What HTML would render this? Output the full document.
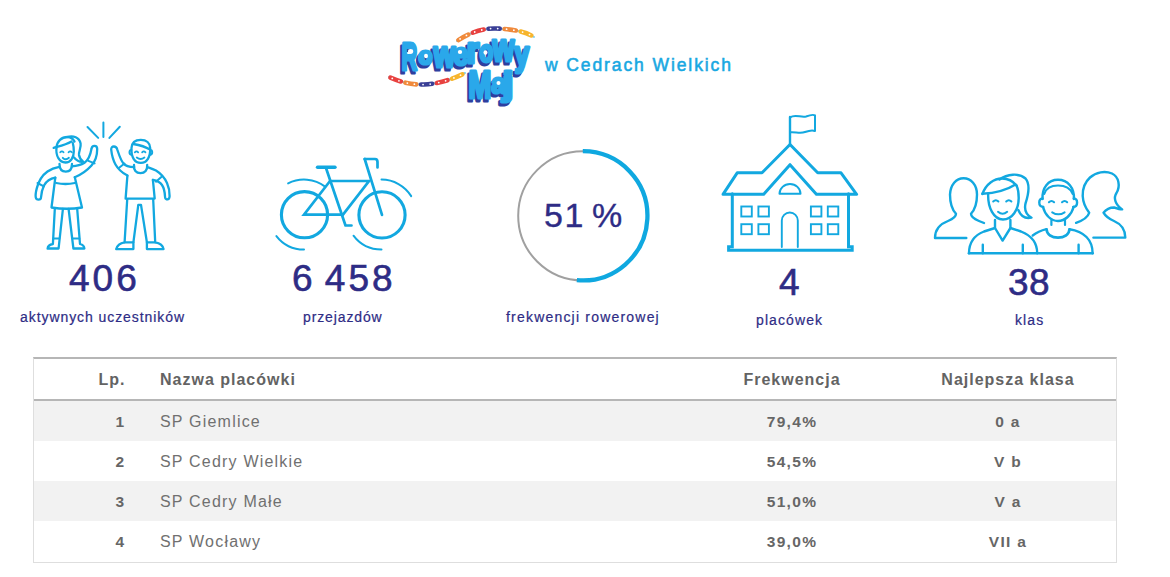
<!DOCTYPE html>
<html><head><meta charset="utf-8">
<style>
html,body{margin:0;padding:0;background:#fff;}
body{width:1170px;height:577px;position:relative;overflow:hidden;font-family:"Liberation Sans",sans-serif;}
.abs{position:absolute;}
.num{position:absolute;color:#2e2c85;font-size:37px;line-height:1;white-space:nowrap;letter-spacing:3px;-webkit-text-stroke:0.6px #2e2c85;}
.lbl{position:absolute;color:#2e2c85;font-size:14px;line-height:1;white-space:nowrap;letter-spacing:1.1px;-webkit-text-stroke:0.2px #2e2c85;}
.hdr{position:absolute;color:#19a8e2;font-size:17.5px;font-weight:normal;line-height:1;white-space:nowrap;letter-spacing:1.9px;-webkit-text-stroke:0.55px #19a8e2;}
table{position:absolute;left:33px;top:357px;width:1084px;border-collapse:collapse;}
.tbl{position:absolute;left:33px;top:357px;width:1082px;height:203px;border-top:2px solid #b6b6b6;border-left:1px solid #dedede;border-right:1px solid #dedede;border-bottom:1px solid #dedede;}
.row{position:absolute;left:0;width:1082px;height:40px;}
.cell{position:absolute;font-size:15px;line-height:1;white-space:nowrap;color:#666;letter-spacing:1.6px;}
.b{font-weight:bold;font-size:15.5px;letter-spacing:1.3px;}
.th{color:#636363;font-size:16px;letter-spacing:1px;}
.nm{color:#707070;font-size:16px;letter-spacing:1.2px;}
.c1{left:692px;width:200px;text-align:center;}
.c2{left:908px;width:200px;text-align:center;}
</style></head>
<body>

<!-- Logo -->
<svg class="abs" style="left:380px;top:20px" width="160" height="90" viewBox="380 20 160 90" font-family="Liberation Sans" font-weight="bold">
<defs>
<g id="lt">
<text x="401.6" y="70.4" font-size="39.5" textLength="15.8" lengthAdjust="spacingAndGlyphs">R</text>
<text x="418.6" y="64.4" font-size="23.7" textLength="13.8" lengthAdjust="spacingAndGlyphs">o</text>
<text x="433.6" y="67.4" font-size="36.7" textLength="21.8" lengthAdjust="spacingAndGlyphs">w</text>
<text x="453.6" y="65.4" font-size="31.1" textLength="14.8" lengthAdjust="spacingAndGlyphs">e</text>
<text x="466.6" y="63.4" font-size="36.7" textLength="12.8" lengthAdjust="spacingAndGlyphs">r</text>
<text x="479.6" y="62.4" font-size="31.1" textLength="13.8" lengthAdjust="spacingAndGlyphs">o</text>
<text x="492.6" y="61.4" font-size="38.5" textLength="21.8" lengthAdjust="spacingAndGlyphs">w</text>
<text x="514.6" y="66.2" font-size="34.4" textLength="14.8" lengthAdjust="spacingAndGlyphs">y</text>
<text x="468.6" y="98.4" font-size="38.1" textLength="22.8" lengthAdjust="spacingAndGlyphs">M</text>
<text x="491.6" y="93.4" font-size="27.4" textLength="13.8" lengthAdjust="spacingAndGlyphs">a</text>
<text x="502.6" y="95.3" font-size="33.8" textLength="10.8" lengthAdjust="spacingAndGlyphs">j</text>
</g>
</defs>
<g stroke-linejoin="round">
<use href="#lt" x="-2" y="3" fill="#2d3f9f" stroke="#2d3f9f" stroke-width="3.2"/>
<use href="#lt" fill="#2aa8ea" stroke="#2aa8ea" stroke-width="3.2"/>
</g>
<g fill="#fff"><ellipse cx="410.6" cy="51.5" rx="2.6" ry="2.4"/><ellipse cx="426" cy="56" rx="2" ry="2.2"/><ellipse cx="460" cy="52" rx="2.2" ry="2"/><ellipse cx="485.5" cy="52.5" rx="2" ry="2.2"/><ellipse cx="498.5" cy="83" rx="2" ry="2"/></g>
<g fill="none" stroke-width="4.6" stroke-linecap="round">
<path d="M457 41 C470 32 485 28 496 28.5 C510 29 525 31 534 37" stroke="#7fd0f0" stroke-width="2"/>
<path d="M389 77 C400 82 412 85 424 84.5 C440 84 455 78 465 73" stroke="#7fd0f0" stroke-width="2"/>
<path pathLength="100" d="M457 41 C470 32 485 28 496 28.5 C510 29 525 31 534 37" stroke="#f08a3c" stroke-dasharray="14 86" stroke-dashoffset="-2"/>
<path pathLength="100" d="M457 41 C470 32 485 28 496 28.5 C510 29 525 31 534 37" stroke="#e8413f" stroke-dasharray="14 86" stroke-dashoffset="-22"/>
<path pathLength="100" d="M457 41 C470 32 485 28 496 28.5 C510 29 525 31 534 37" stroke="#3a3f96" stroke-dasharray="14 86" stroke-dashoffset="-42"/>
<path pathLength="100" d="M457 41 C470 32 485 28 496 28.5 C510 29 525 31 534 37" stroke="#f08a3c" stroke-dasharray="14 86" stroke-dashoffset="-62"/>
<path pathLength="100" d="M457 41 C470 32 485 28 496 28.5 C510 29 525 31 534 37" stroke="#f7b52d" stroke-dasharray="14 86" stroke-dashoffset="-82"/>
<path pathLength="100" d="M389 77 C400 82 412 85 424 84.5 C440 84 455 78 465 73" stroke="#e8413f" stroke-dasharray="14 86" stroke-dashoffset="-2"/>
<path pathLength="100" d="M389 77 C400 82 412 85 424 84.5 C440 84 455 78 465 73" stroke="#f08a3c" stroke-dasharray="14 86" stroke-dashoffset="-22"/>
<path pathLength="100" d="M389 77 C400 82 412 85 424 84.5 C440 84 455 78 465 73" stroke="#3a3f96" stroke-dasharray="14 86" stroke-dashoffset="-42"/>
<path pathLength="100" d="M389 77 C400 82 412 85 424 84.5 C440 84 455 78 465 73" stroke="#e8413f" stroke-dasharray="14 86" stroke-dashoffset="-62"/>
<path pathLength="100" d="M389 77 C400 82 412 85 424 84.5 C440 84 455 78 465 73" stroke="#f7b52d" stroke-dasharray="14 86" stroke-dashoffset="-82"/>
<path pathLength="100" d="M457 41 C470 32 485 28 496 28.5 C510 29 525 31 534 37" stroke="#fff" stroke-width="1.8" stroke-dasharray="0 9 0 11" stroke-dashoffset="-4.5"/>
<path pathLength="100" d="M389 77 C400 82 412 85 424 84.5 C440 84 455 78 465 73" stroke="#fff" stroke-width="1.8" stroke-dasharray="0 9 0 11" stroke-dashoffset="-4.5"/>
</g>
</svg>
<div class="hdr" style="left:545px;top:57px">w Cedrach Wielkich</div>

<!-- Icons -->
<svg class="abs" style="left:0;top:100px" width="1170" height="200" viewBox="0 100 1170 200" fill="none" stroke="#12a8e0" stroke-width="2.4" stroke-linecap="round" stroke-linejoin="round">
<!-- kids -->
<g stroke-width="2.3">
<path d="M87.5 127 L98.2 137.9 M103.4 122.5 L103.4 137.1 M119.8 126.7 L109.4 137.9" stroke-width="2"/>
<path d="M56.5 147.5 C55.5 156 59.5 162.5 65.4 162.5 C71 162.5 73.8 157 73.8 151.5 C73.8 148 73.5 145.5 72.8 143"/>
<path d="M56.5 147.5 C57 141 61.5 137 67.5 137 C71 137 73.5 139.5 74.5 141.5"/>
<path d="M67.5 137 C73 135 79.5 137.5 80.6 143.5 C81.3 148 78.5 151.5 79 155 C79.5 158 81.5 160.5 83.2 161.7 C80 162.2 77 161 74 157.5"/>
<path d="M53.7 147.8 C58 146.5 65.5 145 71.5 141.5"/>
<path d="M60.2 152.3 Q61.9 150.3 63.6 152.3 M68.5 152.3 Q70.2 150.3 71.9 152.3" stroke-width="1.7"/>
<path d="M62.8 157.8 Q65.8 160.8 68.9 157.8" stroke-width="1.9"/>
<path d="M59.5 164 C59.5 169 62 171.6 65.8 171.6 C69.5 171.6 72 169 72 164"/>
<path d="M59.3 166.8 C55 167.5 51 169 47.5 171.5 C42.5 175 38.5 181.5 36.7 188.6 C35.7 192.5 35.4 195.5 35.8 197.5 C36.3 200.3 40.8 200.3 41 197.5 C41.3 193.5 42 189.5 44 185.5 C46.5 181 50.5 178.5 55.3 177.7"/>
<path d="M37.5 183 L43.8 186.3" stroke-width="2"/>
<path d="M55.3 177.7 L51.5 207.5 Q66.8 210 82 207.5 L74.8 177.2"/>
<path d="M56.2 183 Q65.5 185 74.8 183"/>
<path d="M71.8 166.3 C76.5 166 81 165 84.5 162.8 C88.5 160 90.5 154.5 91.5 148.8 C92 145 97.2 145 97.2 149 C97.2 155 95.5 161 91.5 165.5 C87 170.5 81.5 174.5 74.8 177.2"/>
<path d="M88.4 160.8 L94.6 163.4" stroke-width="2"/>
<path d="M54.8 209 L52.9 244 C50 244.5 47.8 246 47.6 248.5 L58.6 248.5 L62.9 209 M68.6 209 L73.4 248.5 L84.4 248.5 C84.2 246 82 244.5 80 244 L77.2 209"/>
<path d="M53.3 238.5 L59.3 238.5 M72.8 238.5 L79.3 238.5" stroke-width="2"/>
<!-- boy -->
<path d="M131.5 148 C131 157 134.5 162.9 140.8 162.9 C147 162.9 150.5 157 150.2 148 C150 143 146.5 139.9 140.8 139.9 C135 139.9 131.8 143 131.5 148"/>
<path d="M133.3 144 C139 145 145 146.5 150 149.5"/>
<path d="M131.4 150 C129 150 128.6 154.6 131.8 155 M150.3 150 C152.7 150 153.1 154.6 149.9 155" stroke-width="2"/>
<path d="M134.8 152.4 Q136.5 150.4 138.2 152.4 M142.1 152.4 Q143.8 150.4 145.5 152.4" stroke-width="1.7"/>
<path d="M136.8 157.6 Q140.6 160.6 144.4 157.6" stroke-width="1.9"/>
<path d="M134 165 C133.5 170 136 173.2 140.5 173.2 C145 173.2 147.5 170 147.2 165"/>
<path d="M134.2 167.2 C129 167 125.5 166 123.5 163.5 C120.5 160 119 154.5 117.2 149.3 C116.2 145.5 111 145.5 111.2 149.6 C111.8 155 113 160 115.5 164.5 C118 169 122.5 173 127.4 175.6"/>
<path d="M118.8 168 L124.5 163.5" stroke-width="2"/>
<path d="M127.4 175.6 L125.6 198.6 L154.7 198.6 L152.9 179.9"/>
<path d="M147.2 167 C150 168 153 169 156 170.5 C160 173 164.5 177.5 167 183 C169 187.5 169.8 192 169.6 196.3 C169.4 200.5 165 200.5 165 196.5 C164.8 192 164 188 162 185 C160 182 156.5 180.5 152.9 179.9"/>
<path d="M155.9 181.7 L161.6 176.7" stroke-width="2"/>
<path d="M127.2 199.5 L124.6 242.3 C120 243 117 246 116.2 249.1 L133.4 249.1 L133.4 242.3 L138.3 204.9 L141 204.9 L146.9 242.3 L146.9 249.1 L163.6 249.1 C163 246 160 243 155.2 242.3 L153.2 199.5"/>
<path d="M124.6 242.3 L133.4 242.3 M146.9 242.3 L155.2 242.3"/>
</g>
<!-- bike -->
<g stroke-width="2.7">
<circle cx="304.5" cy="214.7" r="23.1" stroke-width="3.1"/>
<circle cx="382" cy="214.9" r="23.1" stroke-width="3.1"/>
<path d="M304 214.6 L343 214.6 L369 181 L330 181 Z" stroke-linejoin="miter"/>
<path d="M326 168 L345.5 225.5 L351.5 225.5"/>
<path d="M317.5 167.3 L335 167.3" stroke-width="3.4"/>
<path d="M364.7 159 L382 214.9"/>
<path d="M364.7 159 L375 159 Q377.5 159 377.5 162 L377.5 167.5"/>
<path d="M288.1 183.4 A35 35 0 0 1 325.1 186.65 M304 249.6 A35 35 0 0 1 276.4 236.1 M381.5 179.6 A35 35 0 0 1 411.2 196.1 M381.5 249.6 A35 35 0 0 1 353.5 235.7" stroke-width="2"/>
</g>
<!-- ring -->
<circle cx="582.8" cy="215.8" r="64.6" stroke="#a0a0a0" stroke-width="2"/>
<path d="M582.8 151.2 A64.6 64.6 0 1 1 576.83 280.12" stroke="#0fa8e0" stroke-width="4.3" stroke-linecap="butt"/>
<!-- school -->
<g stroke-width="3">
<path d="M763.7 194.3 L723 194.3 L737.2 172.8 L762 172.8 L790 144.5 L817.7 172.8 L841 172.8 L856.6 194.3 L816.4 194.3 L790 164.7 Z"/>
<path d="M779.5 193.8 A10.5 9.8 0 0 1 800.5 193.8 Z" stroke-width="2"/>
<path d="M732.3 193.8 L732.3 246.8 L728.6 246.8 L728.6 250.2 L852.2 250.2 L852.2 246.8 L848.5 246.8 L848.5 193.8" stroke-linejoin="miter"/>
<g stroke-width="1.9" stroke-linejoin="miter">
<rect x="741.3" y="206.5" width="10.5" height="10"/><rect x="758.4" y="206.5" width="10.5" height="10"/>
<rect x="741.3" y="224.2" width="10.5" height="10"/><rect x="758.4" y="224.2" width="10.5" height="10"/>
<rect x="810.9" y="206.5" width="10.5" height="10"/><rect x="827.8" y="206.5" width="10.5" height="10"/>
<rect x="810.9" y="224.2" width="10.5" height="10"/><rect x="827.8" y="224.2" width="10.5" height="10"/>
<path d="M781.8 247 L781.8 220.5 A8 8 0 0 1 797.8 220.5 L797.8 247"/>
</g>
<path d="M790 144 L790 117" stroke-width="2.4"/>
<path d="M790 117.5 C795 113.5 801 118 806 116.5 C810 115 813 114 815 115.4 L815 131 C812 129.5 809 130.5 805 132 C800 134 795 131.5 790 132.3" stroke-width="2"/>
</g>
<!-- people -->
<g stroke-width="2.4">
<path d="M966.3 238 L935 238 C935 229 940 224 948 221 C953 219 956 217 956 213.8 C951.5 209 950 202 950 194.5 C950.5 185 956 178.2 963.6 178.2 C971 178.2 977 185 977 194.5 C977 202 975.5 209 971 213.8 C971 217 974 219 979 221 L984 223"/>
<path d="M1093.4 237.6 L1125.3 237.6 C1125.3 229 1121 224 1114 221 C1109 219 1106 217 1103.5 212.7 C1106 209.5 1110 207.5 1114 207.5 C1117 208.5 1120 209.5 1122.2 209.4 C1115.5 205 1113 198 1116.5 193 C1120.5 186 1119 177 1112 173.5 C1105 170.5 1096 172 1090 177.5 C1084 183 1082.5 190 1082.7 196 C1083 202 1085.5 208 1089.2 212.7 C1088 217 1084 220 1076.1 222.8"/>
<path d="M988.2 193.5 C987.5 208 994 219.5 1003 219.5 C1012 219.5 1018.7 210 1018.7 198 C1018.7 193 1018.2 189 1016.5 185.5"/>
<path d="M982.4 194 C986 184 994 178.5 1002 178.5 C1008 178.5 1012.5 180.5 1016.5 185.5"/>
<path d="M999.5 179.5 C1007 174 1019 172.5 1025.5 178.5 C1031 185 1028 196 1025.5 203.5 C1024 210 1027 215 1031.5 217.7 C1026 219 1021 216.5 1018.3 210"/>
<path d="M982.4 193.8 C992 193.3 1006 190.5 1015.5 184.5"/>
<path d="M993.2 201.5 Q995.8 198.8 998.4 201.5 M1006.2 201.5 Q1008.8 198.8 1011.4 201.5" stroke-width="2"/>
<path d="M998 211.8 Q1002.6 215.8 1007.2 211.8" stroke-width="2"/>
<path d="M995 220 L995 228 L1002.6 240.6 L1010.4 228 L1010.4 220"/>
<path d="M969 253.3 C969 241 975 235 984 231.5 L995 228 M1010.4 228 L1021 231.5 C1030 235 1037.2 241 1037.2 253.3"/>
<path d="M982.8 244.8 L982.8 253.3 M1022.8 244.8 L1022.8 253.3 M1078.6 244.8 L1078.6 253.3"/>
<path d="M1043 207 C1045 215 1051 221 1058 221 C1065 221 1071.5 215 1073.6 207 M1042.5 199 C1042 188 1048 179.8 1058 179.8 C1068 179.8 1074.4 188 1074 199"/>
<path d="M1044.3 194 C1046 188.5 1051 185.6 1058 185.6 C1065 185.6 1070.5 188.5 1072.6 194" stroke-width="2"/>
<path d="M1042.6 198.5 C1038.5 198 1037.6 206.5 1043.3 207 M1073.7 198.5 C1078 198 1078.6 206.5 1073.1 207"/>
<path d="M1048.9 202.3 Q1051.5 199.6 1054.1 202.3 M1062 202.3 Q1064.6 199.6 1067.2 202.3" stroke-width="2"/>
<path d="M1052.2 212.3 Q1058.4 216.4 1064.6 212.3" stroke-width="2"/>
<path d="M1051.4 220.5 L1051.4 225 M1065 220.5 L1065 225" stroke-width="2.2"/>
<path d="M1046.5 229.2 C1047 235 1052 237.6 1058 237.6 C1064 237.6 1069 235 1069.5 229.2" stroke-width="2.6"/>
<path d="M1032.7 235.5 C1036.5 232.5 1041 230.5 1046.5 229.2 M1069.5 229.2 C1084 231.5 1092.6 240 1092.6 253.3"/>
<path d="M969 253.3 L1092.6 253.3" stroke-width="2.6"/>
</g>
</svg>

<div class="num" style="left:69px;top:260px">406</div>
<div class="lbl" style="left:20px;top:310px;letter-spacing:0.93px">aktywnych uczestników</div>
<div class="num" style="left:292px;top:260px;word-spacing:-4px">6 458</div>
<div class="lbl" style="left:303px;top:310px;letter-spacing:0.88px">przejazdów</div>
<div class="num" style="left:544px;top:198px;font-size:34px;letter-spacing:1.6px;word-spacing:-4px;-webkit-text-stroke:0.35px #2e2c85">51 %</div>
<div class="lbl" style="left:506px;top:310px;letter-spacing:1.2px">frekwencji rowerowej</div>
<div class="num" style="left:779px;top:264px">4</div>
<div class="lbl" style="left:756px;top:313px">placówek</div>
<div class="num" style="left:1008px;top:264px;letter-spacing:0.5px">38</div>
<div class="lbl" style="left:1015px;top:313px">klas</div>

<!-- Table -->
<div class="tbl">
  <div class="row" style="top:0;height:40px;border-bottom:2px solid #b6b6b6;width:1082px"></div>
  <div class="row" style="top:42px;background:#f2f2f2"></div>
  <div class="row" style="top:82px;background:#fff"></div>
  <div class="row" style="top:122px;background:#f2f2f2"></div>
  <div class="row" style="top:162px;background:#fff"></div>
</div>
<div class="cell b th" style="right:1044.5px;top:372.3px">Lp.</div>
<div class="cell b th" style="left:160px;top:372.3px">Nazwa placówki</div>
<div class="cell b th c1" style="top:372.3px">Frekwencja</div>
<div class="cell b th c2" style="top:372.3px">Najlepsza klasa</div>
<div class="cell b" style="right:1044.5px;top:414px">1</div>
<div class="cell nm" style="left:160px;top:413.5px">SP Giemlice</div>
<div class="cell b c1" style="top:414px">79,4%</div>
<div class="cell b c2" style="top:414px">0 a</div>
<div class="cell b" style="right:1044.5px;top:454px">2</div>
<div class="cell nm" style="left:160px;top:453.5px">SP Cedry Wielkie</div>
<div class="cell b c1" style="top:454px">54,5%</div>
<div class="cell b c2" style="top:454px">V b</div>
<div class="cell b" style="right:1044.5px;top:494px">3</div>
<div class="cell nm" style="left:160px;top:493.5px">SP Cedry Małe</div>
<div class="cell b c1" style="top:494px">51,0%</div>
<div class="cell b c2" style="top:494px">V a</div>
<div class="cell b" style="right:1044.5px;top:534px">4</div>
<div class="cell nm" style="left:160px;top:533.5px">SP Wocławy</div>
<div class="cell b c1" style="top:534px">39,0%</div>
<div class="cell b c2" style="top:534px">VII a</div>
</body></html>
